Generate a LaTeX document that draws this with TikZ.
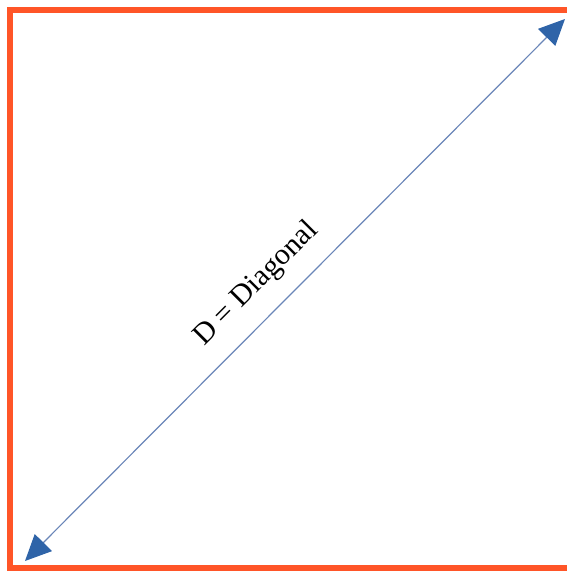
\documentclass[tikz,border=0pt]{standalone}
\usepackage{fontspec}
\setmainfont{Liberation Serif}
\usetikzlibrary{arrows.meta}
\definecolor{frameorange}{HTML}{FF5528}
\definecolor{diaglineblue}{HTML}{6A86B8}
\definecolor{diagtipblue}{HTML}{2F64A8}

\begin{document}
\begin{tikzpicture}[x=1bp, y=1bp, every node/.style={font=\fontsize{30}{34}\selectfont},
  diagtip/.tip={Triangle[length=26bp, width=24bp, color=diagtipblue]}]
 \clip (0,0) rectangle (567,571);
 \useasboundingbox (0,0) rectangle (567,571);
 \draw[frameorange, line width=6bp] (10,3) rectangle (575,561);
 \coordinate (lowcorner) at (25,10);
 \coordinate (highcorner) at (565,552);
 \draw[diaglineblue, line width=1.2bp, diagtip-diagtip] (lowcorner) -- (highcorner)
   node[pos=0.47, sloped, above=14bp, text=black] (diaglabel) {D = Diagonal};
\end{tikzpicture}
\end{document}
